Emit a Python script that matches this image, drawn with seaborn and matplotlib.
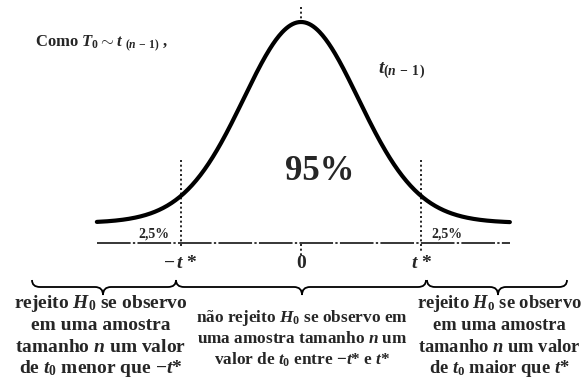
import math
import numpy as np
import pandas as pd
import matplotlib
matplotlib.use("Agg")
import matplotlib.pyplot as plt
from matplotlib.path import Path
from matplotlib.patches import PathPatch
import seaborn as sns

# Student t distribution shown in the figure
graus_liberdade = 30
t_critico = 2.04
t_limites = [-3.46, 3.54]
pct_caudas = ["2,5%", "2,5%"]
pct_centro = "95%"
rotulos_eixo = [r"$-\,t$ *", "0", r"$t$ *"]
texto_titulo = r"Como $T_0 \sim t$ $_{(n\,-\,1)}$ ,"
texto_curva = r"$t_{(n\,-\,1\,)}$"
texto_esquerda = [r"rejeito $H_0$ se observo", "em uma amostra",
                  r"tamanho $n$ um valor", r"de $t_0$ menor que $-t$*"]
texto_centro = [r"não rejeito $H_0$ se observo em", r"uma amostra tamanho $n$ um",
                r"valor de $t_0$ entre $-t$* e $t$*"]
texto_direita = [r"rejeito $H_0$ se observo", "em uma amostra",
                 r"tamanho $n$ um valor", r"de $t_0$ maior que $t$*"]

sns.set_theme(style="white")
plt.rcParams["font.family"] = ["Liberation Serif", "DejaVu Serif"]
plt.rcParams["font.weight"] = "bold"
plt.rcParams["mathtext.fontset"] = "custom"
plt.rcParams["mathtext.rm"] = "Liberation Serif:bold"
plt.rcParams["mathtext.it"] = "Liberation Serif:italic:bold"
plt.rcParams["mathtext.bf"] = "Liberation Serif:bold"


def densidade_t(t, v):
    c = math.gamma((v + 1) / 2) / (math.sqrt(v * math.pi) * math.gamma(v / 2))
    return c * (1 + t ** 2 / v) ** (-(v + 1) / 2)


t_vals = np.linspace(t_limites[0], t_limites[1], 400)
curva = pd.DataFrame({"t": t_vals, "densidade": densidade_t(t_vals, graus_liberdade)})
f_max = densidade_t(0.0, graus_liberdade)

W, H = 581, 384
fig = plt.figure(figsize=(W / 100, H / 100), dpi=100)
fig.patch.set_facecolor("white")

# main axes in distribution units
cx, esc = 301.0, 59.0           # pixel of t = 0, pixels per unit of t
y0_px, pico_px = 223.0, 22.0    # pixel of density 0 and of the peak
k = (y0_px - pico_px) / f_max


def y_dado(py):
    return (y0_px - py) / k


ax = fig.add_axes([0, 0, 1, 1])
ax.set_xlim(-cx / esc, (W - cx) / esc)
ax.set_ylim(y_dado(H), y_dado(0))
ax.axis("off")

sns.lineplot(data=curva, x="t", y="densidade", color="black", lw=3.0,
             ax=ax, legend=False)

# horizontal axis of the distribution
y_base = y_dado(243)
ax.plot(t_limites, [y_base, y_base], color="black", lw=1.1,
        linestyle=(0, (22, 1.5, 1.5, 1.5)))

# critical values and centre
pont = (0, (1.2, 1.6))
ax.plot([-t_critico, -t_critico], [y_dado(160), y_dado(247)], color="black",
        lw=1.2, linestyle=pont)
ax.plot([t_critico, t_critico], [y_dado(160), y_dado(252)], color="black",
        lw=1.2, linestyle=pont)
ax.plot([0, 0], [y_dado(7), y_dado(21)], color="black", lw=1.2, linestyle=pont)
ax.plot([0, 0], [y_dado(244), y_dado(258)], color="black", lw=1.2,
        linestyle=pont)

# axis labels
for xv, lab in zip([-t_critico, 0, t_critico], rotulos_eixo):
    ax.text(xv, y_dado(264), lab, ha="center", va="center", fontsize=14,
            fontweight="bold")

# percentages
ax.text(-t_critico - 27 / esc, y_dado(234), pct_caudas[0], ha="center",
        va="center", fontsize=10, fontweight="bold")
ax.text(t_critico + 26 / esc, y_dado(234), pct_caudas[1], ha="center",
        va="center", fontsize=10, fontweight="bold")
ax.text(19 / esc, y_dado(171), pct_centro, ha="center", va="center",
        fontsize=25, fontweight="bold")

# overlay in pixel units for annotations
ov = fig.add_axes([0, 0, 1, 1])
ov.set_xlim(0, W)
ov.set_ylim(H, 0)
ov.axis("off")
ov.patch.set_alpha(0)

ov.text(35, 44, texto_titulo, ha="left", va="center", fontsize=12,
        fontweight="bold")
ov.text(378, 71, texto_curva, ha="left", va="center", fontsize=14,
        fontweight="bold")


def chave(a, x0, x1, xm, ytop=280, ybar=287, ytip=295, r=8):
    verts = [(x0, ytop), (x0, ybar), (x0 + r, ybar), (xm - r, ybar),
             (xm, ybar), (xm, ytip), (xm, ybar), (xm + r, ybar),
             (x1 - r, ybar), (x1, ybar), (x1, ytop)]
    codes = [Path.MOVETO, Path.CURVE3, Path.CURVE3, Path.LINETO,
             Path.CURVE3, Path.CURVE3, Path.CURVE3, Path.CURVE3,
             Path.LINETO, Path.CURVE3, Path.CURVE3]
    a.add_patch(PathPatch(Path(verts, codes), fill=False, edgecolor="black",
                          lw=1.3))


chave(ov, 32, 176, 103)
chave(ov, 176, 426, 302)
chave(ov, 427, 567, 498)

for i, linha in enumerate(texto_esquerda):
    ov.text(101, 304 + 21.5 * i, linha, ha="center", va="center",
            fontsize=14, fontweight="bold")
for i, linha in enumerate(texto_centro):
    ov.text(302, 318 + 21 * i, linha, ha="center", va="center",
            fontsize=12.4, fontweight="bold")
for i, linha in enumerate(texto_direita):
    ov.text(499, 304 + 21.5 * i, linha, ha="center", va="center",
            fontsize=13.3, fontweight="bold")

fig.savefig("out.png", dpi=100, facecolor="white")
